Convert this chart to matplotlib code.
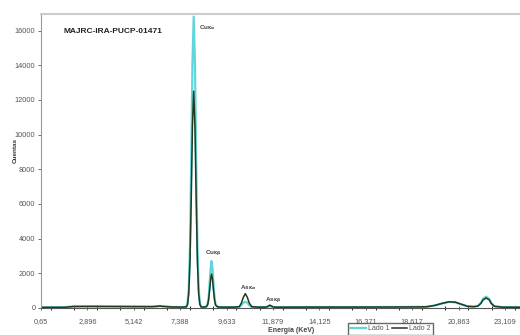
import matplotlib
matplotlib.use("Agg")
import matplotlib.pyplot as plt
from matplotlib.ticker import MultipleLocator

plt.rcParams["font.family"] = ["Liberation Sans", "DejaVu Sans"]

# energy axis (keV) and counts
energia = [0.65, 1.2, 1.8, 2.2, 3.0, 4.0, 5.0, 6.0, 6.3, 6.4, 6.5, 7.0, 7.5,
           7.68, 7.74, 7.80, 7.86, 7.92, 7.98, 8.04, 8.10, 8.16, 8.22, 8.28, 8.34, 8.40,
           8.5, 8.6, 8.65, 8.71, 8.76, 8.81, 8.86, 8.905, 8.95, 9.0, 9.05, 9.1, 9.2, 9.3,
           9.6, 10.0, 10.25, 10.35, 10.44, 10.54, 10.64, 10.73, 10.85, 11.2,
           11.5, 11.6, 11.73, 11.86, 11.96, 12.5, 14.0, 16.0, 18.0, 19.3,
           19.7, 20.1, 20.4, 20.7, 21.0, 21.3, 21.6, 21.8, 21.95, 22.05, 22.2, 22.35,
           22.45, 22.6, 23.0, 23.84]

lado1 = [30, 30, 35, 80, 85, 80, 75, 70, 90, 110, 90, 50, 45,
         60, 250, 1100, 3550, 8400, 14130, 16800, 14130, 8400, 3550, 1100, 250, 60,
         45, 50, 80, 210, 600, 1380, 2280, 2700, 2280, 1380, 600, 200, 60, 45,
         40, 40, 55, 150, 290, 350, 290, 150, 50, 40,
         40, 55, 100, 55, 40, 40, 45, 45, 50, 60,
         130, 260, 340, 320, 200, 90, 70, 110, 300, 520, 650, 520,
         280, 90, 40, 35]

lado2 = [30, 30, 35, 80, 85, 80, 75, 70, 90, 110, 90, 50, 45,
         55, 190, 820, 2650, 6250, 10510, 12500, 10510, 6250, 2650, 820, 190, 55,
         45, 50, 70, 160, 440, 1000, 1650, 1950, 1650, 1000, 440, 150, 55, 45,
         40, 40, 70, 280, 600, 820, 600, 280, 70, 40,
         40, 70, 160, 70, 40, 40, 45, 45, 50, 60,
         140, 270, 350, 330, 210, 90, 70, 100, 260, 460, 570, 460,
         250, 90, 40, 35]

x_ticks = [0.65, 2.896, 5.142, 7.388, 9.633, 11.879, 14.125, 16.371, 18.617, 20.863, 23.109]
x_tick_labels = ["0,65", "2,896", "5,142", "7,388", "9,633", "11,879", "14,125",
                 "16,371", "18,617", "20,863", "23,109"]
y_ticks = [0, 2000, 4000, 6000, 8000, 10000, 12000, 14000, 16000]

# peak annotations: (energy, counts, element, line)
picos = [(8.3, 16150, "Cu", r"K\alpha"),
         (9.0, 3100, "Cu", r"K\beta"),
         (10.7, 1150, "As", r"K\alpha"),
         (11.9, 430, "As", r"K\beta")]

fig = plt.figure(figsize=(5.2, 3.35), dpi=100)
ax = fig.add_axes([0.079, 0.081, 0.921, 0.877])

ax.plot(energia, lado1, color="#5fd6dc", lw=1.6, label="Lado 1")
ax.plot(energia, lado2, color="#1f3a1f", lw=1.1, label="Lado 2")

ax.set_xlim(0.65, 23.84)
ax.set_ylim(0, 16950)
ax.set_xticks(x_ticks)
ax.set_xticklabels(x_tick_labels)
ax.xaxis.set_minor_locator(MultipleLocator(2.246 / 2))
ax.set_yticks(y_ticks)
ax.tick_params(axis="both", labelsize=5.3, colors="#555555", length=2, width=0.6)
ax.tick_params(axis="x", which="both", direction="inout", length=3, pad=6)
ax.tick_params(axis="y", pad=2)

ax.spines["right"].set_visible(False)
ax.spines["top"].set_color("#cccccc")
ax.spines["top"].set_linewidth(1.5)
ax.spines["left"].set_color("#999999")
ax.spines["bottom"].set_color("#555555")

ax.text(1.75, 15950, "MAJRC-IRA-PUCP-01471", fontsize=6, fontweight="bold",
        color="#222222", va="center")

for e, c, el, ln in picos:
    ax.text(e, c, el + r"$_{\mathbf{" + ln + "}}$", fontsize=4.5, fontweight="bold",
            color="#444444", ha="left" if ln == r"K\alpha" and el == "Cu" else "center",
            va="center")

fig.text(0.03, 0.552, "Cuentas", rotation=90, fontsize=4.6, fontweight="bold",
         color="#333333", ha="center", va="center")
fig.text(0.56, 0.012, "Energía (KeV)", fontsize=5, fontweight="bold",
         color="#444444", ha="center", va="center")

fig.legend(loc="upper left", bbox_to_anchor=(0.663, 0.045), ncol=2, fontsize=5,
           frameon=True, fancybox=False, edgecolor="#444444", handlelength=2.2,
           handletextpad=0.3, columnspacing=0.4, borderpad=0.3, labelcolor="#555555")

fig.savefig("out.png", dpi=100)
